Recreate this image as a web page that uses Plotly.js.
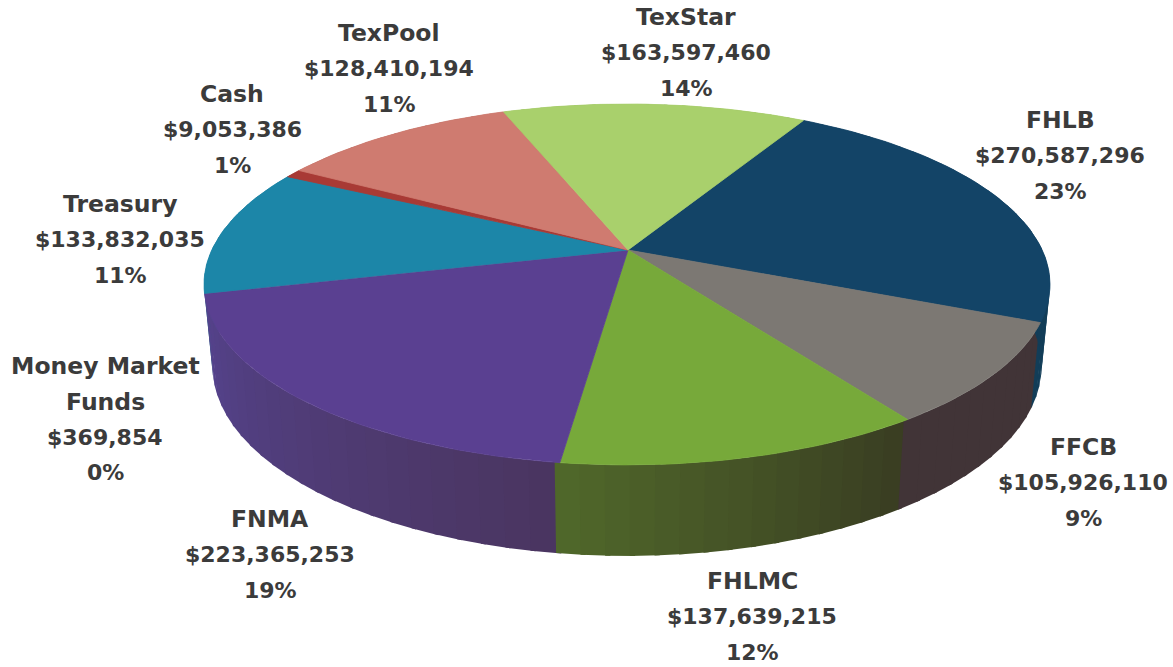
<!DOCTYPE html>
<html>
<head>
<meta charset="utf-8">
<script src="https://cdn.plot.ly/plotly-3.0.1.min.js"></script>
<style>html,body{margin:0;padding:0;background:#fff}#chart{width:1173px;height:667px}</style>
</head>
<body>
<div id="chart"></div>
<script>
// Data
var categories = ["FHLB", "FFCB", "FHLMC", "FNMA", "Money Market\nFunds", "Treasury", "Cash", "TexPool", "TexStar"];
var values = [270587296, 105926110, 137639215, 223365253, 369854, 133832035, 9053386, 128410194, 163597460];

// Styles
var topColors = ["#134467", "#7c7873", "#77a93a", "#5a4091", "#7a3f8f", "#1c86a8", "#a83a35", "#cf7b70", "#a9d06c"];
var wallFrom = ["#123d58", "#413437", "#50682a", "#55438e", "#55438e", "#1a6a85", "#802a26", "#a05f55", "#85a555"];
var wallTo = ["#123d58", "#413437", "#393d22", "#4a3560", "#4a3560", "#1a6a85", "#802a26", "#a05f55", "#85a555"];
var labelX = [1060, 1083, 752, 270, 105, 120, 232, 389, 686];
var labelY = [120, 447, 581, 519, 366, 204, 94, 33, 17];
var lineStep = 35.5;

// Perspective projection of the pie (pixel-space axes)
var cx = 627, radius = 415.2, apexY = 250, persp = 0.191, tiltA = -126.1;
var startDeg = 29.7;
var depthScaleX = 0.98, depthScaleY = 1.05, ellipseMidY = 284.5, bottomMidY = 366.5;

function project(deg) {
  var t = deg * Math.PI / 180, u = Math.sin(t), v = Math.cos(t), w = 1 + persp * v;
  return [cx + radius * u / w, (tiltA * v + apexY) / w];
}
function projectBottom(deg) {
  var p = project(deg);
  return [cx + (p[0] - cx) * depthScaleX, bottomMidY + (p[1] - ellipseMidY) * depthScaleY];
}
function hex2rgb(h) { return [1, 3, 5].map(function (i) { return parseInt(h.substr(i, 2), 16); }); }
function mix(a, b, f) {
  var x = hex2rgb(a), y = hex2rgb(b);
  return "rgb(" + x.map(function (c, i) { return Math.round(c + (y[i] - c) * f); }).join(",") + ")";
}
function poly(xy, color, lw) {
  return { type: "scatter", mode: "lines", fill: "toself", fillcolor: color, x: xy.map(function (p) { return p[0]; }), y: xy.map(function (p) { return p[1]; }),
    line: { color: color, width: lw }, hoverinfo: "skip", showlegend: false };
}

var total = values.reduce(function (a, b) { return a + b; }, 0);
var walls = [], tops = [], annotations = [];
var angle = startDeg;
values.forEach(function (val, i) {
  var span = val / total * 360, a0 = angle, n, k, pts;
  // wall strips, each overlapping the next so no seam shows
  var strips = Math.max(1, Math.ceil(span / 3));
  for (k = 0; k < strips; k++) {
    var b0 = a0 + span * k / strips, b1 = a0 + span * (k + 1) / strips + 0.6, q = [], s;
    for (s = 0; s <= 3; s++) q.push(project(b0 + (b1 - b0) * s / 3));
    for (s = 3; s >= 0; s--) q.push(projectBottom(b0 + (b1 - b0) * s / 3));
    walls.push({ order: i * 1000 + k, poly: poly(q, mix(wallTo[i], wallFrom[i], (k + 0.5) / strips), 0) });
  }
  // top face
  pts = [[cx + 1, apexY]];
  n = Math.max(2, Math.ceil(span / 1.5));
  for (k = 0; k <= n; k++) pts.push(project(a0 + span * k / n));
  pts.push([cx + 1, apexY]);
  tops.push(poly(pts, topColors[i], 0.8));
  // labels
  var pct = Math.round(val / total * 100) + "%";
  var money = "$" + val.toString().replace(/\B(?=(\d{3})+(?!\d))/g, ",");
  var names = categories[i].split("\n");
  names.concat([money, pct]).forEach(function (line, j) {
    annotations.push({ xref: "x", yref: "y", x: labelX[i], y: labelY[i] + j * lineStep, text: "<b>" + line + "</b>", showarrow: false,
      xanchor: "center", yanchor: "middle", font: { family: "DejaVu Sans", size: j < names.length ? 23.5 : 22, color: "#3b3b3b" } });
  });
  angle += span;
});

// paint walls so each strip's overlap falls under its neighbour
walls.sort(function (a, b) { return b.order - a.order; });

var traces = walls.map(function (w) { return w.poly; }).concat(tops);
Plotly.newPlot("chart", traces, {
  width: 1173, height: 667, margin: { l: 0, r: 0, t: 0, b: 0 }, paper_bgcolor: "#fff", plot_bgcolor: "#fff", showlegend: false,
  xaxis: { range: [0, 1173], visible: false, fixedrange: true },
  yaxis: { range: [667, 0], visible: false, fixedrange: true },
  annotations: annotations
}, { displayModeBar: false, staticPlot: true });
</script>
</body>
</html>
